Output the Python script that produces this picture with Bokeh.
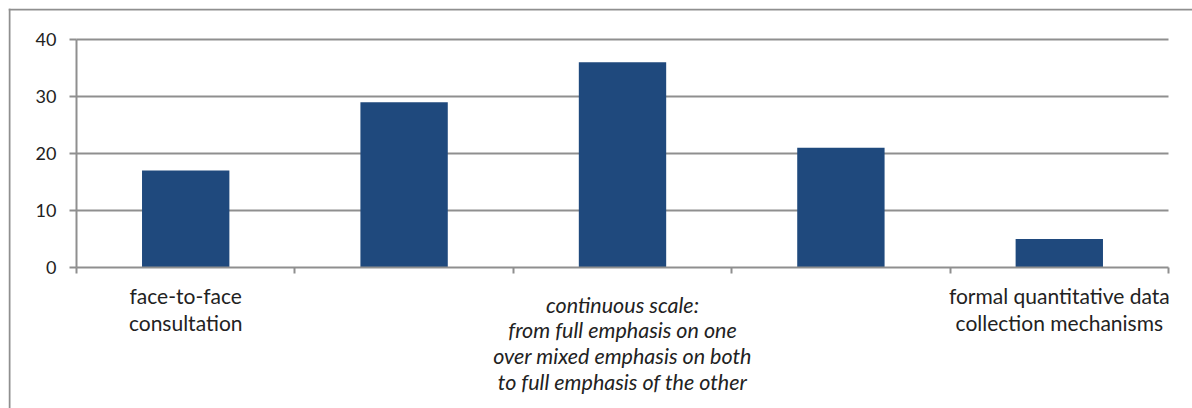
from bokeh.plotting import figure
from bokeh.models import FixedTicker, ColumnDataSource, Range1d, Span
from bokeh.core.properties import value
from bokeh.embed import file_html
from bokeh.resources import INLINE

# data
values = [17, 29, 36, 21, 5]
positions = [0.5, 1.5, 2.5, 3.5, 4.5]
y_ticks = [0, 10, 20, 30, 40]
grid_ticks = [10, 20, 30, 40]
x_bounds = [0, 1, 2, 3, 4, 5]
label_pos = [0.5, 2.5, 4.5]
label_text = ["face-to-face\nconsultation",
              "continuous scale:\nfrom full emphasis on one\nover mixed emphasis on both\nto full emphasis of the other",
              "formal quantitative data\ncollection mechanisms"]
label_style = ["normal", "italic", "normal"]

FONT = "Lato"
GRAY = "#8f8f8f"
BAR = "#1F497D"
TXT = "#222222"

# layout (pixels on the canvas)
W, H = 1192, 408
BORDER = 8
PX_LEFT, PX_RIGHT, PX_TOP, PX_BOTTOM = 76, 1168, 39, 267
xs = (PX_RIGHT - PX_LEFT) / (x_bounds[-1] - x_bounds[0])
ys = (PX_BOTTOM - PX_TOP) / (y_ticks[-1] - y_ticks[0])
x_range = Range1d(x_bounds[0] - (PX_LEFT - BORDER) / xs, x_bounds[-1] + (W - PX_RIGHT) / xs)
y_range = Range1d(y_ticks[0] - (H - PX_BOTTOM) / ys, y_ticks[-1] + (PX_TOP - BORDER) / ys)

p = figure(width=W, height=H, x_range=x_range, y_range=y_range,
           output_backend="svg", toolbar_location=None,
           min_border_left=BORDER, min_border_top=BORDER, min_border_right=0, min_border_bottom=0)

p.outline_line_color = None
p.xgrid.grid_line_color = None
p.ygrid.grid_line_color = None

# outer chart frame: only its left and top edges fall inside the window
p.add_layout(Span(location=x_range.start + 1 / xs, dimension="height", line_color=GRAY, line_width=2))
p.add_layout(Span(location=y_range.end - 1 / ys, dimension="width", line_color=GRAY, line_width=2))

# horizontal grid lines between the axis ends
p.segment(x0=[x_bounds[0]] * len(grid_ticks), x1=[x_bounds[-1]] * len(grid_ticks),
          y0=grid_ticks, y1=grid_ticks, line_color=GRAY, line_width=2)

src = ColumnDataSource(dict(x=positions, top=values))
p.vbar(x="x", top="top", bottom=0, width=0.4, source=src, fill_color=BAR, line_color=None)

p.yaxis.fixed_location = x_bounds[0]
p.yaxis.bounds = (y_ticks[0], y_ticks[-1])
p.yaxis.ticker = FixedTicker(ticks=y_ticks)
p.yaxis.axis_line_color = GRAY
p.yaxis.axis_line_width = 2
p.yaxis.major_tick_line_color = GRAY
p.yaxis.major_tick_line_width = 2
p.yaxis.major_tick_out = 7
p.yaxis.major_tick_in = 0
p.yaxis.minor_tick_line_color = None
p.yaxis.major_label_text_font = FONT
p.yaxis.major_label_text_font_size = "18px"
p.yaxis.major_label_text_color = TXT
p.yaxis.major_label_standoff = 13

p.xaxis.fixed_location = y_ticks[0]
p.xaxis.bounds = (x_bounds[0], x_bounds[-1])
p.xaxis.ticker = FixedTicker(ticks=x_bounds)
p.xaxis.axis_line_color = GRAY
p.xaxis.axis_line_width = 2
p.xaxis.major_tick_line_color = GRAY
p.xaxis.major_tick_line_width = 2
p.xaxis.major_tick_out = 6
p.xaxis.major_tick_in = 0
p.xaxis.minor_tick_line_color = None
p.xaxis.major_label_overrides = {t: "" for t in x_bounds}

# category labels, one row per line
first_baseline = {"normal": 28, "italic": 37}
line_step = {"normal": 27, "italic": 25.7}
font_size = {"normal": "21px", "italic": "21.5px"}
for style in ("normal", "italic"):
    lx, ly, lt, lo = [], [], [], []
    for x, t, s in zip(label_pos, label_text, label_style):
        if s != style:
            continue
        for i, line in enumerate(t.split("\n")):
            lx.append(x)
            ly.append(y_ticks[0])
            lt.append(line)
            lo.append(first_baseline[s] + i * line_step[s])
    p.text(x=lx, y=ly, text=lt, y_offset=lo, text_align="center",
           text_baseline="alphabetic", text_font=value(FONT), text_font_style=style,
           text_font_size=font_size[style], text_color=TXT)

open("out.html", "w").write(file_html(p, INLINE))
